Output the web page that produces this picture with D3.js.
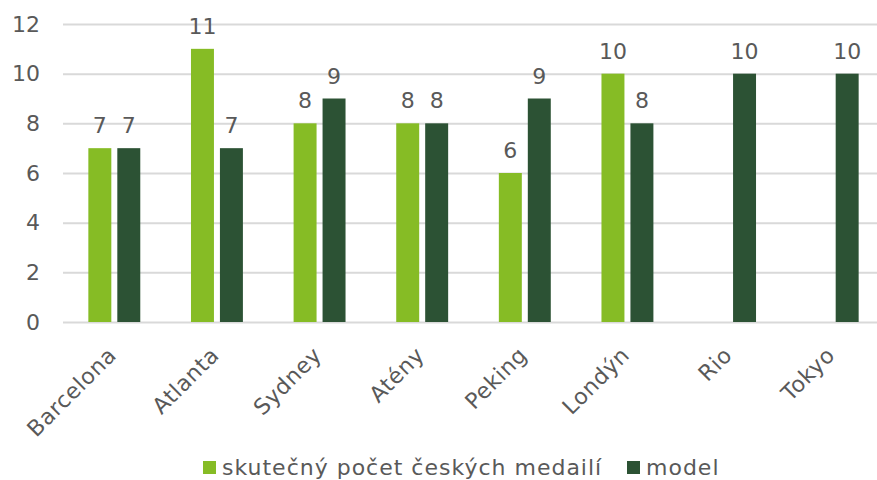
<!DOCTYPE html>
<html>
<head>
<meta charset="utf-8">
<script src="https://cdn.jsdelivr.net/npm/d3@7/dist/d3.min.js"></script>
<style>
  body { margin: 0; background: #fff; }
  svg { display: block; font-family: "DejaVu Sans", Verdana, sans-serif; }
</style>
</head>
<body>
<svg id="chart" width="877" height="480"></svg>
<script>
// data
const cities = ['Barcelona', 'Atlanta', 'Sydney', 'Atény', 'Peking', 'Londýn', 'Rio', 'Tokyo'];
const skutecny = [7, 11, 8, 8, 6, 10, null, null];
const model = [7, 7, 9, 8, 9, 8, 10, 10];
const seriesNames = ['skutečný počet českých medailí', 'model'];
const yTicks = [0, 2, 4, 6, 8, 10, 12];

const colors = ['#86bc25', '#2c5234'];
const textColor = '#595959';

const svg = d3.select('#chart');
const plot = { left: 63, right: 884, top: 24, bottom: 322 };

const x0 = d3.scaleBand()
    .domain(cities)
    .range([plot.left, plot.right])
    .paddingInner(0.494)
    .paddingOuter(0.247);

const x1 = d3.scaleBand()
    .domain([0, 1])
    .range([0, x0.bandwidth()])
    .paddingInner(0.207);

const y = d3.scaleLinear()
    .domain([0, 12])
    .range([plot.bottom, plot.top]);

// gridlines + y labels
const yAxis = svg.append('g')
    .attr('transform', `translate(${plot.left},0)`)
    .call(d3.axisLeft(y).tickValues(yTicks).tickSize(-(plot.right - plot.left)).tickPadding(23));
yAxis.select('.domain').remove();
yAxis.selectAll('.tick line').attr('stroke', '#d9d9d9').attr('stroke-width', 2);
yAxis.selectAll('.tick text')
    .attr('fill', textColor)
    .attr('font-size', 22)
    .attr('font-family', '"DejaVu Sans", Verdana, sans-serif');

// bars
const rows = cities.map((c, i) => ({ city: c, vals: [skutecny[i], model[i]] }));

const groups = svg.append('g').selectAll('g')
    .data(rows)
    .join('g')
    .attr('transform', d => `translate(${x0(d.city)},0)`);

const cells = groups.selectAll('g')
    .data(d => d.vals.map((v, k) => ({ k, v })).filter(e => e.v != null))
    .join('g');

cells.append('rect')
    .attr('x', d => x1(d.k))
    .attr('y', d => y(d.v))
    .attr('width', x1.bandwidth())
    .attr('height', d => y(0) - y(d.v))
    .attr('fill', d => colors[d.k]);

cells.append('text')
    .attr('x', d => x1(d.k) + x1.bandwidth() / 2)
    .attr('y', d => y(d.v) - 15)
    .attr('text-anchor', 'middle')
    .attr('fill', textColor)
    .attr('font-size', 22)
    .text(d => d.v);

// x labels
svg.append('g').selectAll('text')
    .data(cities)
    .join('text')
    .attr('transform', d => `translate(${x0(d) + x0.bandwidth() / 2 - 2},${plot.bottom + 29}) rotate(-45)`)
    .attr('text-anchor', 'end')
    .attr('dy', '0.35em')
    .attr('fill', textColor)
    .attr('font-size', 22)
    .attr('letter-spacing', 0.6)
    .text(d => d);

// legend
const legend = svg.append('g').attr('transform', 'translate(203,475)');
const lx = [0, 424];
seriesNames.forEach((name, k) => {
    const g = legend.append('g').attr('transform', `translate(${lx[k]},0)`);
    g.append('rect').attr('x', 0).attr('y', -14).attr('width', 13).attr('height', 13).attr('fill', colors[k]);
    g.append('text')
        .attr('x', 19)
        .attr('fill', textColor)
        .attr('font-size', 22)
        .attr('letter-spacing', 1)
        .text(name);
});
</script>
</body>
</html>
